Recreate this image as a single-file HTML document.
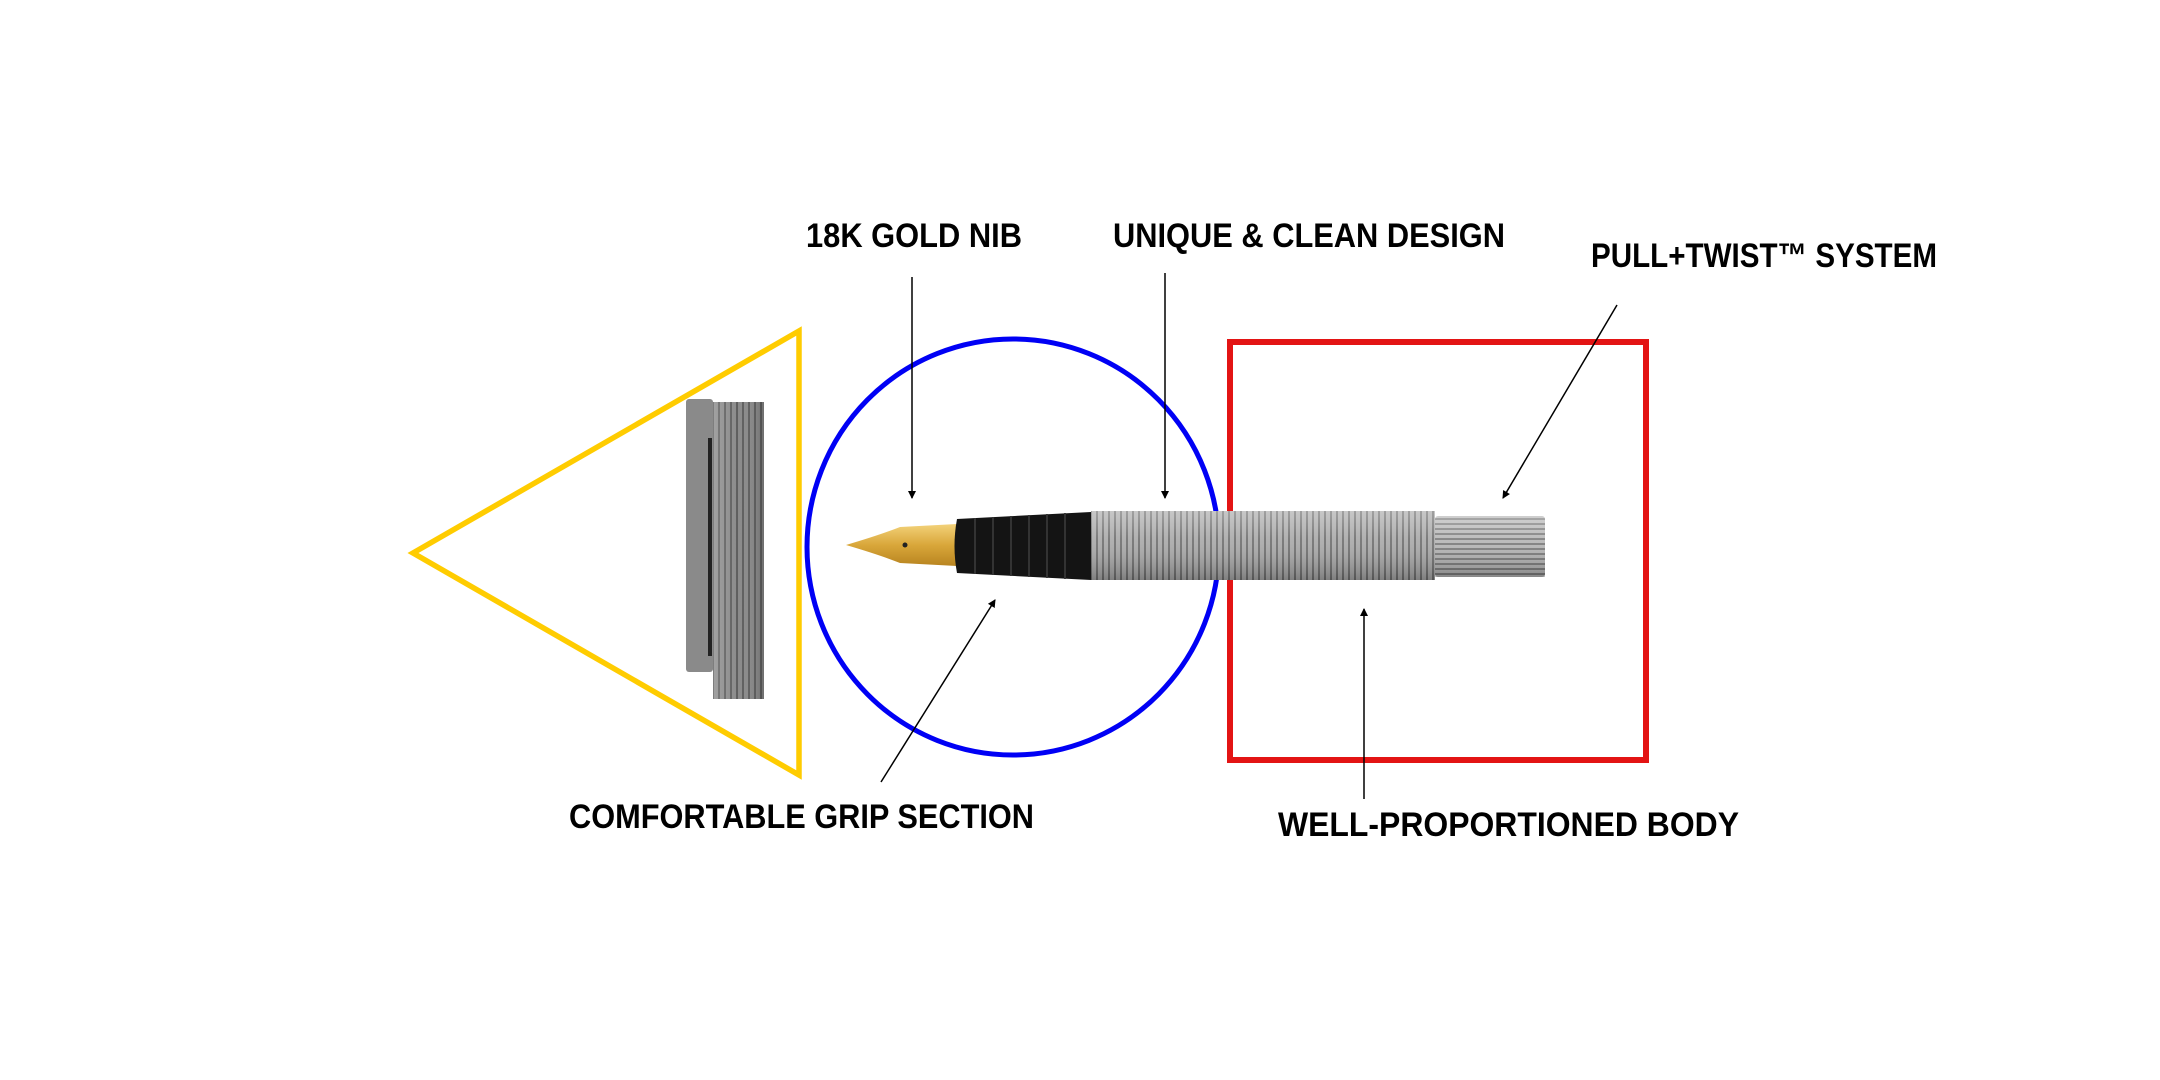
<!DOCTYPE html>
<html><head><meta charset="utf-8"><style>
html,body{margin:0;padding:0;background:#fff;}
svg{display:block;}
text{font-family:"Liberation Sans",sans-serif;font-weight:bold;fill:#000;}
</style></head><body>
<svg width="2160" height="1080" viewBox="0 0 2160 1080" xmlns="http://www.w3.org/2000/svg">
<defs>
<marker id="ah" markerWidth="8" markerHeight="8" refX="7" refY="4" orient="auto" markerUnits="userSpaceOnUse"><path d="M0,0 L8,4 L0,8 z" fill="#000"/></marker>
<pattern id="rings" width="6" height="10" patternUnits="userSpaceOnUse"><rect width="6" height="10" fill="#a9a9a9"/><rect x="4" width="2" height="10" fill="#6e6e6e"/></pattern>
<linearGradient id="shadeV" x1="0" y1="0" x2="0" y2="1"><stop offset="0" stop-color="#fff" stop-opacity="0.35"/><stop offset="0.4" stop-color="#fff" stop-opacity="0.1"/><stop offset="1" stop-color="#000" stop-opacity="0.25"/></linearGradient>
<pattern id="flutesH" width="10" height="5" patternUnits="userSpaceOnUse"><rect width="10" height="5" fill="#b5b5b5"/><rect y="3" width="10" height="2" fill="#7a7a7a"/></pattern>
<pattern id="flutesV" width="6" height="10" patternUnits="userSpaceOnUse"><rect width="6" height="10" fill="#8a8a8a"/><rect x="4" width="2" height="10" fill="#5e5e5e"/></pattern>
<linearGradient id="gold" x1="0" y1="0" x2="0" y2="1"><stop offset="0" stop-color="#f3d27a"/><stop offset="0.5" stop-color="#d9a73a"/><stop offset="1" stop-color="#b88420"/></linearGradient>
<linearGradient id="shadeH" x1="0" y1="0" x2="1" y2="0"><stop offset="0" stop-color="#fff" stop-opacity="0.2"/><stop offset="0.5" stop-color="#fff" stop-opacity="0"/><stop offset="1" stop-color="#000" stop-opacity="0.2"/></linearGradient>
</defs>

<polygon points="413,553 799,331 799,775" fill="none" stroke="#FFCC00" stroke-width="5.5"/>
<ellipse cx="1013" cy="547" rx="206" ry="208" fill="none" stroke="#0000F5" stroke-width="5"/>
<rect x="1230" y="342" width="416" height="418" fill="none" stroke="#E31414" stroke-width="6"/>

<rect x="713" y="402" width="51" height="297" fill="url(#flutesV)"/>
<rect x="713" y="402" width="51" height="297" fill="url(#shadeH)"/>
<rect x="686" y="399" width="27" height="273" rx="3" fill="#8a8a8a"/>
<rect x="708" y="438" width="4" height="218" fill="#222"/>

<path d="M846,545 Q880,535 900,527 L957,524 L957,566 L900,563 Q880,555 846,545 z" fill="url(#gold)"/>
<circle cx="905" cy="545" r="2.5" fill="#222"/>
<path d="M957,519 L1091,512 L1091,580 L957,573 Q952,546 957,519 z" fill="#141414"/>
<g stroke="#333" stroke-width="2">
<line x1="975" y1="518" x2="975" y2="574"/><line x1="993" y1="517" x2="993" y2="575"/><line x1="1011" y1="516" x2="1011" y2="576"/><line x1="1029" y1="515" x2="1029" y2="577"/><line x1="1047" y1="514" x2="1047" y2="578"/><line x1="1065" y1="513" x2="1065" y2="579"/>
</g>
<rect x="1091" y="511" width="344" height="69" fill="url(#rings)"/>
<rect x="1091" y="511" width="344" height="69" fill="url(#shadeV)"/>
<rect x="1435" y="516" width="110" height="61" rx="3" fill="url(#flutesH)"/>
<rect x="1435" y="516" width="110" height="61" fill="url(#shadeV)"/>

<g stroke="#000" stroke-width="1.5" marker-end="url(#ah)">
<line x1="912" y1="277" x2="912" y2="498"/>
<line x1="1165" y1="273" x2="1165" y2="498"/>
<line x1="1617" y1="305" x2="1503" y2="498"/>
<line x1="881" y1="782" x2="995" y2="600"/>
<line x1="1364" y1="799" x2="1364" y2="609"/>
</g>

<text x="806" y="247" font-size="34" textLength="216" lengthAdjust="spacingAndGlyphs">18K GOLD NIB</text>
<text x="1113" y="247" font-size="34" textLength="392" lengthAdjust="spacingAndGlyphs">UNIQUE &amp; CLEAN DESIGN</text>
<text x="1591" y="267" font-size="34" textLength="346" lengthAdjust="spacingAndGlyphs">PULL+TWIST™ SYSTEM</text>
<text x="569" y="828" font-size="34" textLength="465" lengthAdjust="spacingAndGlyphs">COMFORTABLE GRIP SECTION</text>
<text x="1278" y="836" font-size="34" textLength="461" lengthAdjust="spacingAndGlyphs">WELL-PROPORTIONED BODY</text>
</svg>
</body></html>
